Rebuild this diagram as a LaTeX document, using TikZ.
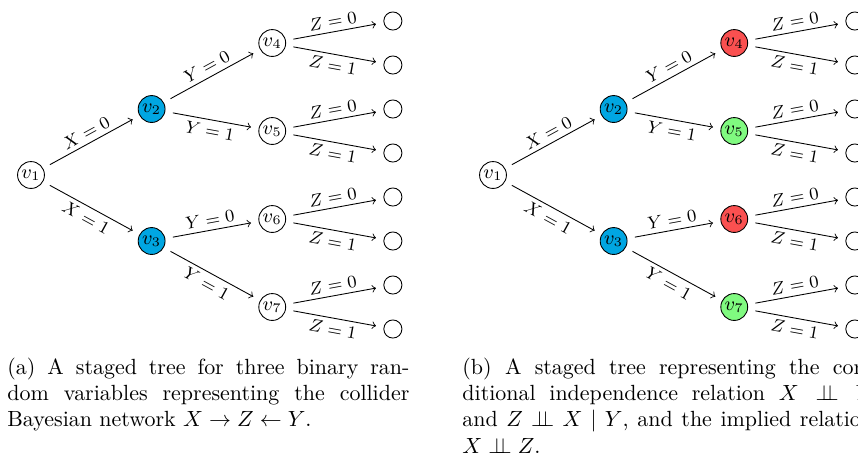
\documentclass[tikz,border=0pt]{standalone}
\usepackage{amsmath, amssymb}
\usepackage{tikz}
\newcommand{\indep}{\perp\!\!\!\perp}
\definecolor{stageblue}{RGB}{0,166,226}
\definecolor{stagered}{RGB}{250,80,80}
\definecolor{stagegreen}{RGB}{128,250,128}

\begin{document}
\begin{tikzpicture}[
    stage/.style={draw, circle, minimum size=0.43cm, inner sep=0pt, font=\small},
    leaf/.style={draw, circle, minimum size=0.29cm, inner sep=0pt},
    branch/.style={->, shorten <=3.5pt, shorten >=3.5pt},
    lab/.style={sloped, font=\footnotesize, inner sep=2pt}
]
\useasboundingbox (0,0) rectangle (13.728,-7.248);
    % the two staged trees, (a) plain and (b) coloured
    \foreach \tn/\sx/\ca/\cb in {a/0/white/white, b/7.392/stagered/stagegreen}{
    \begin{scope}[shift={(\sx+0.496,-2.8)}]
    \node[stage] (\tn1) at (0,0) {$v_1$};
    \node[stage, fill=stageblue] (\tn2) at (1.93,1.056) {$v_2$};
    \node[stage, fill=stageblue] (\tn3) at (1.93,-1.056) {$v_3$};
    \node[stage, fill=\ca] (\tn4) at (3.86,2.112) {$v_4$};
    \node[stage, fill=\cb] (\tn5) at (3.86,0.704) {$v_5$};
    \node[stage, fill=\ca] (\tn6) at (3.86,-0.704) {$v_6$};
    \node[stage, fill=\cb] (\tn7) at (3.86,-2.112) {$v_7$};
    \foreach \i in {1,...,8}{
        \node[leaf] (\tn l\i) at (5.79, {2.464-0.704*(\i-1)}) {};
    };
    \draw[branch] (\tn1) -- node[lab, above] {$X=0$} (\tn2);
    \draw[branch] (\tn1) -- node[lab, below] {$X=1$} (\tn3);
    \draw[branch] (\tn2) -- node[lab, above] {$Y=0$} (\tn4);
    \draw[branch] (\tn2) -- node[lab, below] {$Y=1$} (\tn5);
    \draw[branch] (\tn3) -- node[lab, above] {$Y=0$} (\tn6);
    \draw[branch] (\tn3) -- node[lab, below] {$Y=1$} (\tn7);
    \foreach \j in {4,...,7}{
        \pgfmathtruncatemacro{\la}{2*\j-7}
        \pgfmathtruncatemacro{\lb}{2*\j-6}
        \draw[branch] (\tn\j) -- node[lab, above] {$Z=0$} (\tn l\la);
        \draw[branch] (\tn\j) -- node[lab, below] {$Z=1$} (\tn l\lb);
    };
    \end{scope}
    };
    % captions
    \node[anchor=base west, text width=183pt, align=justify, inner sep=0pt] (capa) at (0.112,-5.984)
    {(a) A staged tree for three binary ran-\linebreak dom variables representing the collider\linebreak Bayesian network $X \to Z \leftarrow Y$.};
    \node[anchor=base west, text width=187pt, align=justify, inner sep=0pt] (capb) at (7.392,-5.984)
    {(b) A staged tree representing the con-\linebreak ditional independence relation $X \indep Y$\linebreak and $Z \indep X \mid Y$, and the implied relation\linebreak $X \indep Z$.};
\end{tikzpicture}
\end{document}
